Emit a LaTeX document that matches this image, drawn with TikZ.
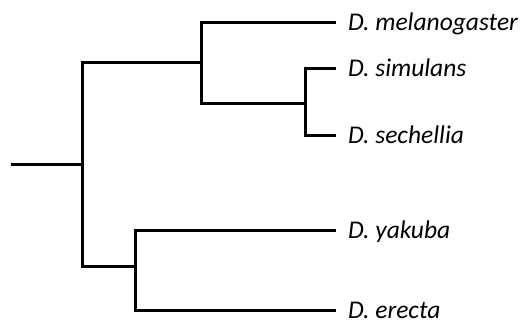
\documentclass[tikz,border=0pt]{standalone}
\usepackage{fontspec}
\setmainfont{Carlito}
\begin{document}
\begin{tikzpicture}[x=1pt,y=-1pt,
  branch/.style={line width=3pt, line cap=rect, line join=miter},
  leaf/.style={anchor=base west, inner sep=0pt, font=\fontsize{25.5}{30}\selectfont\itshape}]
\useasboundingbox (0,0) rectangle (521,322);
% internal nodes
\coordinate (r0) at (12,164);
\coordinate (n1) at (82,164);
\coordinate (n2) at (201,62);
\coordinate (n3) at (305,103);
\coordinate (n4) at (135,266);
% leaf tips
\coordinate (t1) at (334,22);
\coordinate (t2) at (334,68);
\coordinate (t3) at (334,135);
\coordinate (t4) at (334,230);
\coordinate (t5) at (334,310);
% labels
\node[leaf] (l1) at (348,30) {D. melanogaster};
\node[leaf] (l2) at (348,76) {D. simulans};
\node[leaf] (l3) at (348,143) {D. sechellia};
\node[leaf] (l4) at (348,238) {D. yakuba};
\node[leaf] (l5) at (348,318) {D. erecta};
% branches
\draw[branch] (r0) -- (n1);
\draw[branch] (n2) -| (n1) |- (n4);
\draw[branch] (t1) -| (n2) |- (n3);
\draw[branch] (t2) -| (n3) |- (t3);
\draw[branch] (t4) -| (n4) |- (t5);
\end{tikzpicture}
\end{document}
